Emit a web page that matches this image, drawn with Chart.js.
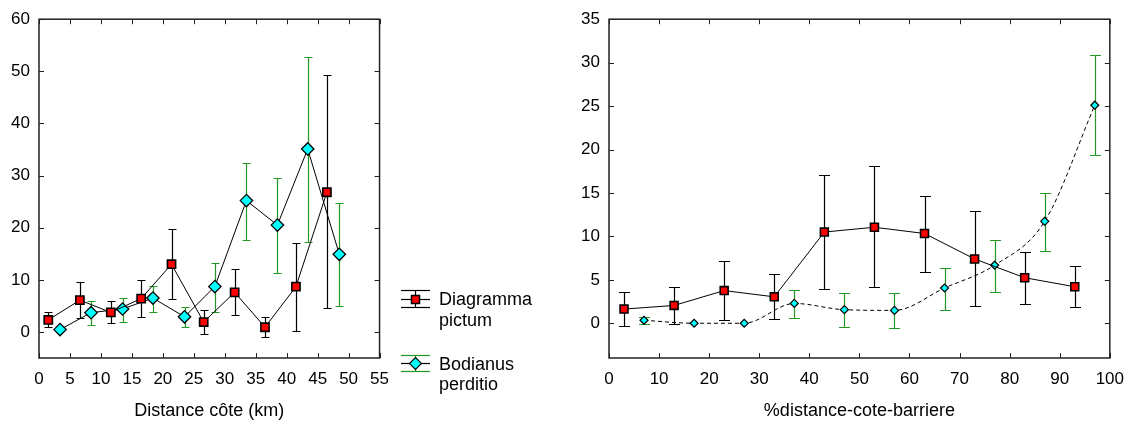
<!DOCTYPE html>
<html><head><meta charset="utf-8">
<script src="https://cdn.jsdelivr.net/npm/chart.js@4"></script>
<style>
html,body{margin:0;padding:0;background:#fff;}
body{width:1135px;height:422px;position:relative;overflow:hidden;font-family:"Liberation Sans",Arial,sans-serif;}
canvas{position:absolute;top:0;}
#c1{left:0;}
#c2{left:560px;}
#lgsym{position:absolute;left:0;top:0;}
.lg{position:absolute;left:439px;font-size:18px;line-height:20.5px;color:#000;white-space:nowrap;}
</style></head><body>
<canvas id="c1" width="400" height="422"></canvas>
<canvas id="c2" width="575" height="422"></canvas>
<svg id="lgsym" width="560" height="422">
  <g stroke="#000" stroke-width="1.2" fill="none">
    <line x1="401" y1="299.5" x2="430" y2="299.5"/>
    <line x1="401" y1="290.5" x2="430" y2="290.5"/>
    <line x1="401" y1="307.5" x2="430" y2="307.5"/>
    <line x1="415.5" y1="290.5" x2="415.5" y2="307.5"/>
  </g>
  <rect x="411.5" y="295.5" width="8" height="8" fill="#ff0000" stroke="#000" stroke-width="1.5"/>
  <g stroke="#229922" stroke-width="1.2" fill="none">
    <line x1="401" y1="355.5" x2="430" y2="355.5"/>
    <line x1="401" y1="371.5" x2="430" y2="371.5"/>
    <line x1="415.5" y1="355.5" x2="415.5" y2="371.5"/>
  </g>
  <line x1="401" y1="363.5" x2="430" y2="363.5" stroke="#000" stroke-width="1.2"/>
  <polygon points="409.5,363.5 415.5,357.5 421.5,363.5 415.5,369.5" fill="#00ffff" stroke="#000" stroke-width="1.2"/>
</svg>
<div class="lg" style="top:289px">Diagramma<br>pictum</div>
<div class="lg" style="top:353.5px">Bodianus<br>perditio</div>
<script>
// ---------- Data ----------
// Left panel: Distance côte (km)
const leftXTicks = [0, 5, 10, 15, 20, 25, 30, 35, 40, 45, 50, 55];
const leftYTicks = [0, 10, 20, 30, 40, 50, 60];
const leftDiagX    = [1.5, 6.6, 11.6, 16.5, 21.4, 26.6, 31.6, 36.5, 41.5, 46.5];
const leftDiagY    = [2.3, 6.1, 3.75, 6.4, 13.0, 1.9, 7.6, 0.9, 8.7, 26.8];
const leftDiagHigh = [3.8, 9.5, 6.0, 10.0, 19.7, 4.3, 12.0, 2.8, 17.1, 49.3];
const leftDiagLow  = [0.9, 2.7, 1.7, 2.9, 6.3, -0.4, 3.3, -0.9, 0.25, 4.5];
const leftBodX     = [3.4, 8.4, 13.5, 18.4, 23.5, 28.4, 33.5, 38.5, 43.4, 48.5];
const leftBodY     = [0.45, 3.7, 4.4, 6.5, 2.9, 8.7, 25.2, 20.5, 35.1, 14.9];
const leftBodHigh  = [0.45, 5.9, 6.6, 8.8, 4.7, 13.3, 32.4, 29.6, 52.8, 24.7];
const leftBodLow   = [0.45, 1.35, 2.0, 3.9, 0.9, 3.8, 17.7, 11.4, 17.3, 5.0];

// Right panel: %distance-cote-barriere
const rightXTicks = [0, 10, 20, 30, 40, 50, 60, 70, 80, 90, 100];
const rightYTicks = [0, 5, 10, 15, 20, 25, 30, 35];
const rightDiagX    = [3, 13, 23, 33, 43, 53, 63, 73, 83, 93];
const rightDiagY    = [1.63, 2.05, 3.76, 3.04, 10.5, 11.05, 10.33, 7.4, 5.24, 4.2];
const rightDiagHigh = [3.6, 4.2, 7.14, 5.7, 17.05, 18.07, 14.7, 12.87, 8.24, 6.57];
const rightDiagLow  = [-0.35, -0.05, 0.42, 0.53, 3.95, 4.18, 5.92, 2.0, 2.16, 1.9];
const rightBodX     = [7, 17, 27, 37, 47, 57, 67, 77, 87, 97];
const rightBodY     = [0.34, 0, 0, 2.28, 1.56, 1.48, 4.06, 6.68, 11.73, 25.1];
const rightBodHigh  = [0.72, 0, 0, 3.84, 3.45, 3.45, 6.4, 9.64, 15.0, 30.87];
const rightBodLow   = [-0.1, 0, 0, 0.57, -0.42, -0.57, 1.48, 3.6, 8.31, 19.4];

const seriesNames = ['Diagramma pictum', 'Bodianus perditio'];
// ---------------------------------------------------

const FONT = '"Liberation Sans", Arial, sans-serif';
const GREEN = '#229922';

function pts(xs, ys) { return xs.map((x, i) => ({x: x, y: ys[i]})); }

const errorBarsPlugin = {
  id: 'errbars',
  beforeDatasetsDraw(chart) {
    const ctx = chart.ctx, xs = chart.scales.x, ys = chart.scales.y;
    chart.data.datasets.forEach(ds => {
      if (!ds.errLow) return;
      ctx.save();
      ctx.strokeStyle = ds.errColor;
      ctx.lineWidth = 1.2;
      ds.data.forEach((p, i) => {
        const lo = ds.errLow[i], hi = ds.errHigh[i];
        if (lo === hi) return;
        const px = Math.round(xs.getPixelForValue(p.x)) + 0.5;
        const y1 = Math.round(ys.getPixelForValue(lo)) + 0.5;
        const y2 = Math.round(ys.getPixelForValue(hi)) + 0.5;
        const h = ds.capHalf;
        ctx.beginPath();
        ctx.moveTo(px, y1); ctx.lineTo(px, y2);
        ctx.moveTo(px - h, y1); ctx.lineTo(px + h, y1);
        ctx.moveTo(px - h, y2); ctx.lineTo(px + h, y2);
        ctx.stroke();
      });
      ctx.restore();
    });
  }
};

const framePlugin = {
  id: 'frame',
  afterDatasetsDraw(chart) {
    const ctx = chart.ctx, a = chart.chartArea, xs = chart.scales.x, ys = chart.scales.y;
    const TL = 5;
    ctx.save();
    ctx.strokeStyle = '#222';
    ctx.lineWidth = 1;
    ctx.beginPath();
    xs.ticks.forEach(t => {
      const px = Math.round(xs.getPixelForValue(t.value)) + 0.5;
      ctx.moveTo(px, a.bottom); ctx.lineTo(px, a.bottom - TL);
      ctx.moveTo(px, a.top); ctx.lineTo(px, a.top + TL);
    });
    ys.ticks.forEach(t => {
      const py = Math.round(ys.getPixelForValue(t.value)) + 0.5;
      ctx.moveTo(a.left, py); ctx.lineTo(a.left + TL, py);
      ctx.moveTo(a.right, py); ctx.lineTo(a.right - TL, py);
    });
    ctx.stroke();
    ctx.lineWidth = 1.5;
    ctx.strokeRect(a.left, a.top, a.right - a.left, a.bottom - a.top);
    ctx.restore();
  }
};

function axis(min, max, tickVals, fitFn, pad, title) {
  const o = {
    type: 'linear', min: min, max: max,
    afterBuildTicks: s => { s.ticks = tickVals.map(v => ({value: v})); },
    afterFit: fitFn,
    grid: {display: false, drawTicks: false},
    border: {display: false},
    ticks: {padding: pad, color: '#000', autoSkip: false, maxRotation: 0, font: {size: 17, family: FONT}}
  };
  if (title) o.title = {display: true, text: title, color: '#000', font: {size: 18, family: FONT}, padding: {top: 0, bottom: 0}};
  return o;
}

function makeChart(id, cfg) {
  return new Chart(document.getElementById(id), {
    type: 'scatter',
    data: {datasets: cfg.datasets},
    options: {
      responsive: false, animation: false, devicePixelRatio: 1,
      layout: {padding: cfg.padding},
      plugins: {legend: {display: false}, tooltip: {enabled: false}},
      scales: {
        x: axis(cfg.xMin, cfg.xMax, cfg.xTicks, s => { s.height = 64; }, 11, cfg.xTitle),
        y: axis(cfg.yMin, cfg.yMax, cfg.yTicks, s => { s.width = cfg.yWidth; }, 9, null)
      }
    },
    plugins: [errorBarsPlugin, framePlugin]
  });
}

makeChart('c1', {
  padding: {left: 0, top: 15, right: 17, bottom: 0},
  xMin: 0, xMax: 55, xTicks: leftXTicks, xTitle: 'Distance côte (km)',
  yMin: -5, yMax: 60, yTicks: leftYTicks, yWidth: 39,
  datasets: [
    {label: seriesNames[0], data: pts(leftDiagX, leftDiagY), showLine: true,
     borderColor: '#000', borderWidth: 1, pointStyle: 'rect', pointRadius: 5.8,
     pointBackgroundColor: '#ff0000', pointBorderColor: '#000', pointBorderWidth: 1.6,
     errLow: leftDiagLow, errHigh: leftDiagHigh, errColor: '#000', capHalf: 4},
    {label: seriesNames[1], data: pts(leftBodX, leftBodY), showLine: true,
     borderColor: '#000', borderWidth: 1, pointStyle: 'rectRot', pointRadius: 6.2,
     pointBackgroundColor: '#00ffff', pointBorderColor: '#000', pointBorderWidth: 1.3,
     errLow: leftBodLow, errHigh: leftBodHigh, errColor: GREEN, capHalf: 4}
  ]
});

makeChart('c2', {
  padding: {left: 0, top: 16, right: 22, bottom: 0},
  xMin: 0, xMax: 100, xTicks: rightXTicks, xTitle: '%distance-cote-barriere',
  yMin: -4, yMax: 35, yTicks: rightYTicks, yWidth: 49,
  datasets: [
    {label: seriesNames[0], data: pts(rightDiagX, rightDiagY), showLine: true,
     borderColor: '#000', borderWidth: 1, pointStyle: 'rect', pointRadius: 5.6,
     pointBackgroundColor: '#ff0000', pointBorderColor: '#000', pointBorderWidth: 1.6,
     errLow: rightDiagLow, errHigh: rightDiagHigh, errColor: '#000', capHalf: 5.5},
    {label: seriesNames[1], data: pts(rightBodX, rightBodY), showLine: true,
     borderColor: '#000', borderWidth: 1, borderDash: [4, 3], cubicInterpolationMode: 'monotone',
     pointStyle: 'rectRot', pointRadius: 4, pointBackgroundColor: '#00ffff',
     pointBorderColor: '#000', pointBorderWidth: 1.2,
     errLow: rightBodLow, errHigh: rightBodHigh, errColor: GREEN, capHalf: 5.5}
  ]
});
</script>
</body></html>
